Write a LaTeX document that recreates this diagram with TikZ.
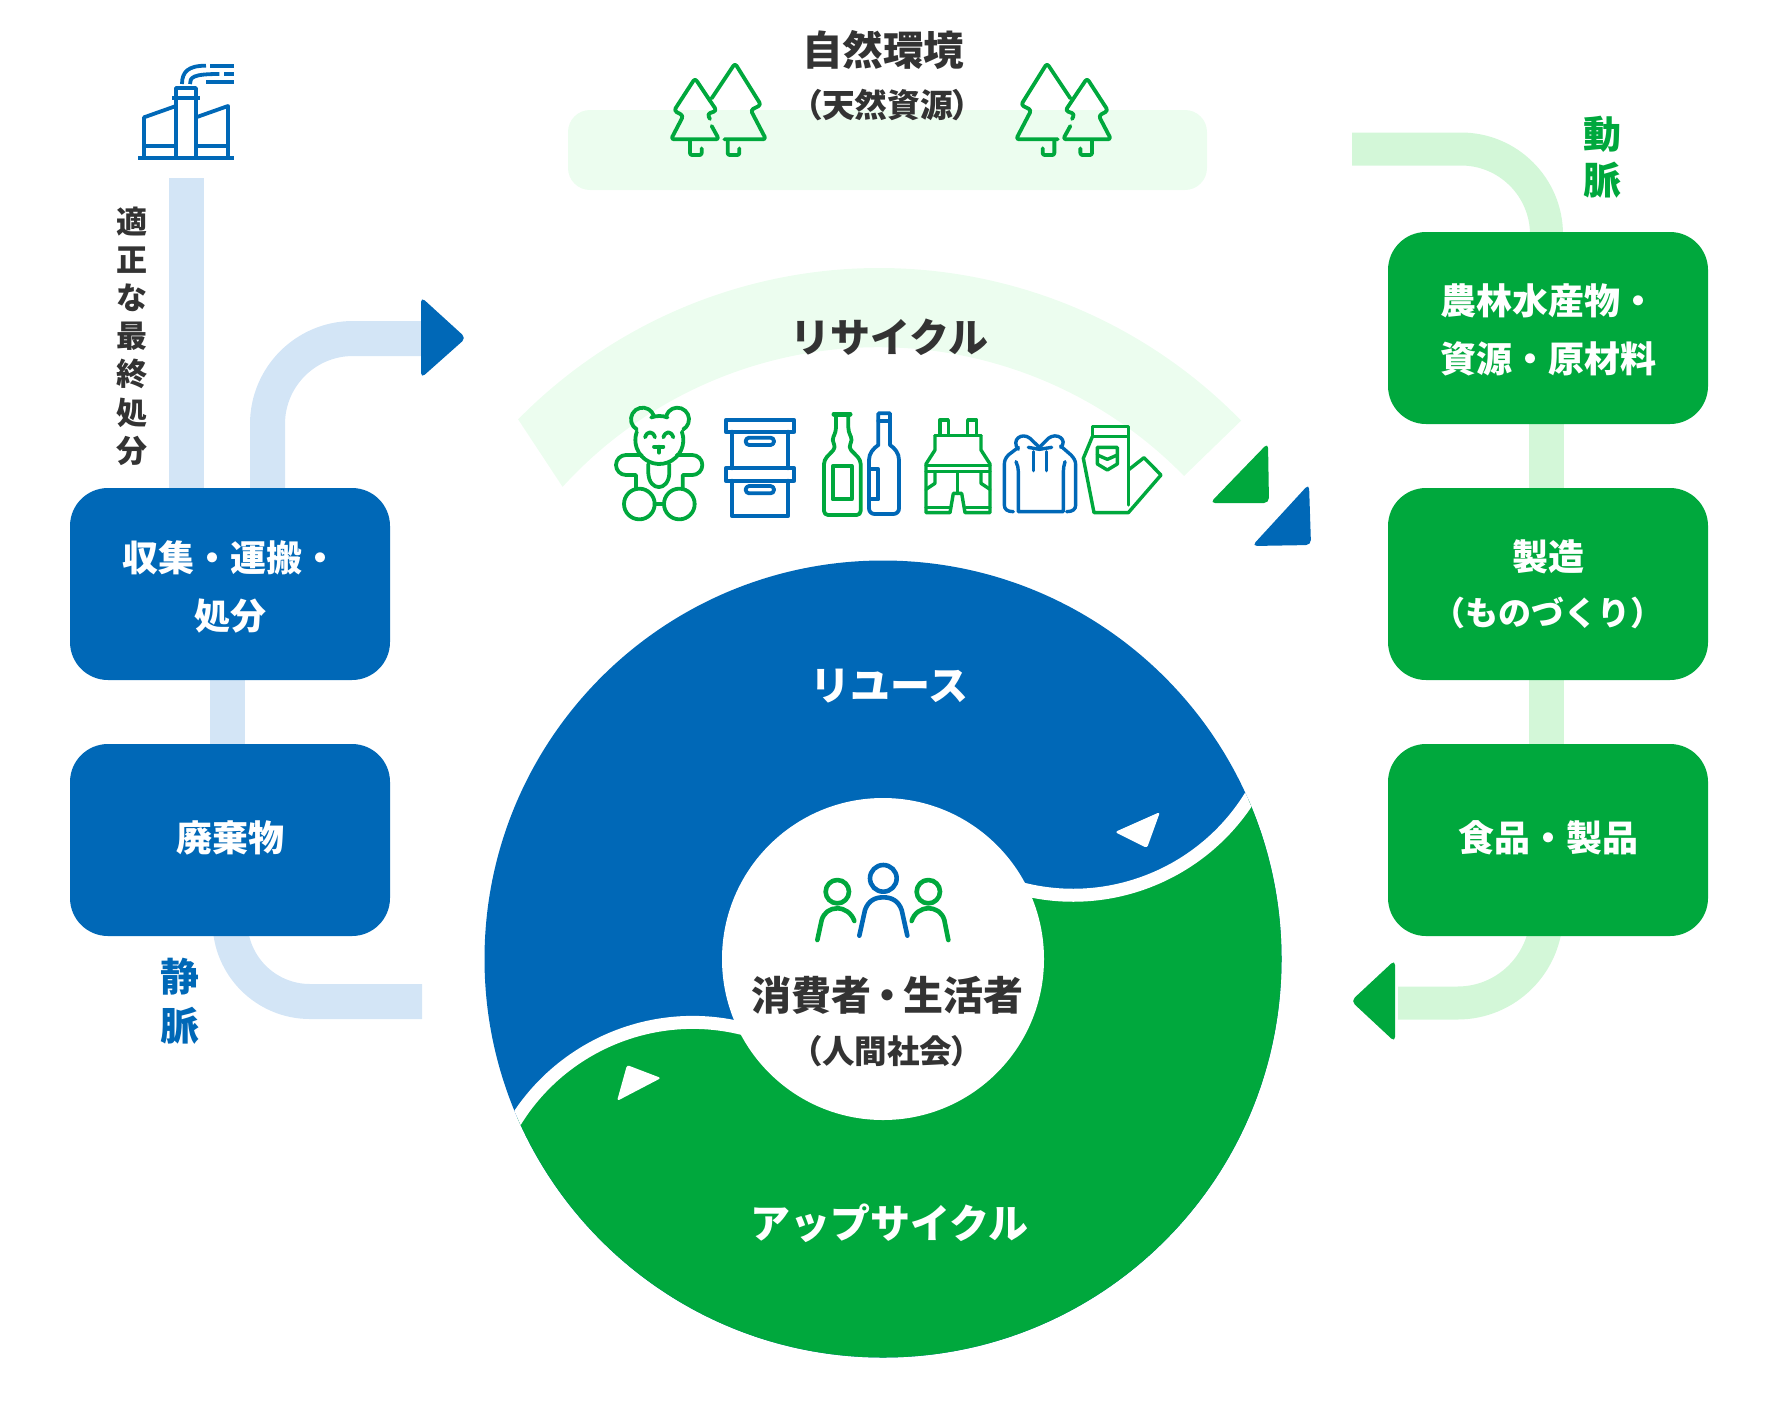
\documentclass[tikz,border=0pt]{standalone}
\usepackage{fontspec}
\usetikzlibrary{backgrounds}
\setmainfont{Noto Sans CJK JP}
\newfontfamily\pal{Noto Sans CJK JP}[RawFeature={+palt}]
\definecolor{mblue}{HTML}{0068B7}
\definecolor{mgreen}{HTML}{00A83D}
\definecolor{lblue}{HTML}{D3E5F6}
\definecolor{lgreen}{HTML}{D3F7D8}
\definecolor{pale}{HTML}{ECFDEF}
\definecolor{ink}{HTML}{333333}
\newcommand{\fs}[2]{\fontsize{#1}{#2}\selectfont\bfseries}
\newcommand{\shifted}[2]{\raisebox{#1}[0pt][0pt]{\begin{tabular}{@{}c@{}}#2\end{tabular}}}
\tikzset{
  box/.style={rounded corners=38pt,minimum width=320pt,minimum height=192pt,inner sep=0pt,align=center,text=white,fill=#1},
  blink/.style={draw=lblue,line width=35pt},
  glink/.style={draw=lgreen,line width=33pt},
  gstraight/.style={draw=lgreen,line width=35pt},
  tipshape/.style={fill=#1,rounded corners=5pt},
  ico/.style={draw=#1,line width=3.8pt,line join=round,line cap=round,fill=none},
  lab/.style={inner sep=0pt,align=center,text=#1},
}
\begin{document}
\begin{tikzpicture}[x=1pt,y=-1pt]
\useasboundingbox (0,0) rectangle (1776,1400);

% soft shapes
\fill[pale,rounded corners=22pt] (568,110) rectangle (1207,190);
\fill[pale] (879,774) ++(224.5:506) arc[start angle=224.5,end angle=315.7,radius=506]
  -- (1184,476) arc[start angle=315.7,end angle=222.3,radius=427] -- cycle;

% boxes
\node[box=mblue,font=\fs{36}{58}] (lb1) at (230,584) {\shifted{-11.5pt}{収集・運搬・\\処分}};
\node[box=mblue,font=\fs{36}{58}] (lb2) at (230,840) {\shifted{-5.9pt}{廃棄物}};
\node[box=mgreen,font=\fs{36}{58}] (rb1) at (1548,328) {\shifted{-10pt}{農林水産物・\\資源・原材料}};
\node[box=mgreen,font=\fs{36}{55}] (rb2) at (1548,584) {製造\\\fs{33}{55}（ものづくり）};
\node[box=mgreen,font=\fs{36}{58}] (rb3) at (1548,840) {\shifted{-6.3pt}{食品・製品}};

% free connector ends
\coordinate (lx1) at (186,0);
\coordinate (lx2) at (267.5,0);
\coordinate (lx3) at (227,0);
\coordinate (lx4) at (230,0);
\coordinate (rx1) at (1546.5,0);
\coordinate (disposal) at (186,178);
\coordinate (recycleend) at (425,338.5);
\coordinate (veinend) at (422,1001.5);
\coordinate (artstart) at (1352,149);
\coordinate (artend) at (1398,1003);

\begin{scope}[on background layer]
  \draw[blink] (lb1.center -| lx1) -- (disposal);
  \draw[blink] (lb1.center -| lx2) -- (267.5,424) arc[start angle=180,end angle=270,radius=85.5] -- (recycleend);
  \draw[blink] (lb1.center -| lx3) -- (lb2.center -| lx3);
  \draw[blink] (lb2.center -| lx4) -- (230,921.5) arc[start angle=180,end angle=90,radius=80] -- (veinend);
  \draw[glink] (artstart) -- (1461,149) arc[start angle=270,end angle=360,radius=85.5] -- (rb1.center -| rx1);
  \draw[gstraight] (rb1.center -| rx1) -- (rb2.center -| rx1);
  \draw[gstraight] (rb2.center -| rx1) -- (rb3.center -| rx1);
  \draw[glink] (rb3.center -| rx1) -- (1546.5,914) arc[start angle=0,end angle=90,radius=89] -- (artend);
\end{scope}

% arrow heads
\fill[tipshape=mblue] (421,297) -- (466,338) -- (421,378) -- cycle;
\fill[tipshape=mgreen] (1395,960) -- (1351,1001) -- (1395,1042) -- cycle;
\fill[tipshape=mgreen] (1268,443) -- (1269,503) -- (1210,503) -- cycle;
\fill[tipshape=mblue] (1309,484) -- (1311,545) -- (1252,546) -- cycle;

% central ring
\fill[mblue] (883,959) circle[radius=398.5];
\begin{scope}
  \clip (883,959) circle[radius=398.5];
  \fill[mgreen] (1269,758) arc[start angle=20,end angle=110,radius=208.5]
     -- (764,1035) arc[start angle=290,end angle=200,radius=208.5]
     -- (500,1400) -- (1400,1400) -- (1400,758) -- cycle;
  \draw[white,line width=13pt] (1269,758) arc[start angle=20,end angle=110,radius=208.5]
     -- (764,1035) arc[start angle=290,end angle=200,radius=208.5];
\end{scope}
\fill[white] (883,959) circle[radius=161];
\fill[white,rounded corners=2.5pt] (1115,832) -- (1160,812) -- (1147,848) -- cycle;
\fill[white,rounded corners=2.5pt] (627,1065) -- (661,1078) -- (617,1101) -- cycle;

% factory
\begin{scope}[shift={(90,30)},scale=1/3]
  \draw[ico=mblue,line cap=butt] (145,384) -- (432,384);
  \draw[ico=mblue] (162,384) -- (162,262) -- (258,228);
  \draw[ico=mblue] (258,384) -- (258,174) -- (318,174) -- (318,384);
  \draw[ico=mblue,line cap=butt] (247,204) -- (330,204);
  \draw[ico=mblue] (318,262) -- (414,228) -- (414,384);
  \draw[ico=mblue,line cap=butt] (162,348) -- (258,348);
  \draw[ico=mblue,line cap=butt] (318,348) -- (414,348);
  \draw[ico=mblue,line cap=butt] (276,162) .. controls (276,125) and (295,107) .. (348,107);
  \draw[ico=mblue,line cap=butt] (300,162) .. controls (300,142) and (308,132) .. (388,132);
  \draw[ico=mblue,line cap=butt] (360,107) -- (432,107);
  \draw[ico=mblue,line cap=butt] (348,156) -- (432,156);
  \draw[ico=mblue,line cap=butt] (402,132) -- (432,132);
\end{scope}

% trees, left pair
\begin{scope}[shift={(660,50)},scale=1/3]
  \draw[ico=mgreen,rounded corners=3pt] (150,207) -- (142,192) -- (170,182) -- (105,85) -- (42,182) -- (70,197) -- (33,268) -- (177,268) -- (155,228);
  \draw[ico=mgreen,rounded corners=3pt] (155,145) -- (225,40) -- (303,165) -- (272,180) -- (318,268) -- (193,268);
  \draw[ico=mgreen,rounded corners=2pt] (90,270) -- (90,315) -- (125,315) -- (125,295);
  \draw[ico=mgreen,rounded corners=2pt] (203,270) -- (203,315) -- (238,315) -- (238,295);
\end{scope}
% trees, right pair
\begin{scope}[shift={(1122,50)},xscale=-1/3,yscale=1/3]
  \draw[ico=mgreen,rounded corners=3pt] (150,207) -- (142,192) -- (170,182) -- (105,85) -- (42,182) -- (70,197) -- (33,268) -- (177,268) -- (155,228);
  \draw[ico=mgreen,rounded corners=3pt] (155,145) -- (225,40) -- (303,165) -- (272,180) -- (318,268) -- (193,268);
  \draw[ico=mgreen,rounded corners=2pt] (90,270) -- (90,315) -- (125,315) -- (125,295);
  \draw[ico=mgreen,rounded corners=2pt] (203,270) -- (203,315) -- (238,315) -- (238,295);
\end{scope}

% teddy, boxes, bottles
\begin{scope}[shift={(600,390)},scale=1/3]
  \draw[ico=mgreen] (128,88) ++(120:35) arc[start angle=120,end angle=340,radius=35];
  \draw[ico=mgreen] (232,88) ++(200:35) arc[start angle=200,end angle=420,radius=35];
  \draw[ico=mgreen] (178,150) ++(-20:72) arc[start angle=-20,end angle=200,radius=72];
  \draw[ico=mgreen] (178,150) ++(250:72) arc[start angle=250,end angle=290,radius=72];
  \draw[ico=mgreen] (135,142) .. controls (142,122) and (158,122) .. (165,142);
  \draw[ico=mgreen] (190,142) .. controls (197,122) and (213,122) .. (220,142);
  \draw[ico=mgreen] (162,170) -- (190,170) (177,170) -- (177,188);
  \draw[ico=mgreen] (125,195) -- (78,195) arc[start angle=270,end angle=90,radius=30] -- (108,255) -- (108,295);
  \draw[ico=mgreen] (230,195) -- (277,195) arc[start angle=-90,end angle=90,radius=30] -- (248,255) -- (248,295);
  \draw[ico=mgreen] (145,222) -- (145,250) .. controls (148,305) and (205,305) .. (208,250) -- (208,222);
  \draw[ico=mgreen] (118,342) circle[radius=46] (238,342) circle[radius=46];
  \draw[ico=mgreen] (164,342) -- (192,342);
  % storage boxes
  \draw[ico=mblue] (377,90) rectangle (583,125);
  \draw[ico=mblue] (395,125) -- (395,235) (565,125) -- (565,235);
  \draw[ico=mblue,rounded corners=3.5pt] (437,143) rectangle (522,165);
  \draw[ico=mblue] (377,235) rectangle (583,272);
  \draw[ico=mblue] (395,272) -- (395,378) -- (565,378) -- (565,272);
  \draw[ico=mblue,rounded corners=3.5pt] (437,288) rectangle (522,310);
  % bottles
  \draw[ico=mgreen,line width=5pt] (702,72) -- (750,72);
  \draw[ico=mgreen,rounded corners=4pt] (708,72) -- (708,125) -- (695,150) -- (708,172) -- (672,210) -- (672,375) -- (782,375) -- (782,210) -- (745,172) -- (758,150) -- (745,125) -- (745,72);
  \draw[ico=mgreen] (698,228) rectangle (755,328);
  \draw[ico=mblue] (835,70) -- (870,70) -- (870,165) .. controls (885,175) and (897,190) .. (897,210) -- (897,355) .. controls (897,365) and (890,372) .. (880,372) -- (824,372) .. controls (814,372) and (807,365) .. (807,355) -- (807,210) .. controls (807,190) and (820,175) .. (835,165) -- cycle;
  \draw[ico=mblue] (835,92) -- (870,92);
  \draw[ico=mblue] (810,238) -- (835,238) -- (835,328) -- (810,328);
\end{scope}

% overalls, hoodie, trousers
\begin{scope}[shift={(900,390)},scale=1/3]
  \tikzset{ico/.append style={line width=3.4pt}}
  \draw[ico=mgreen] (120,135) -- (120,90) -- (145,90) -- (145,135);
  \draw[ico=mgreen] (203,135) -- (203,90) -- (230,90) -- (230,135);
  \draw[ico=mgreen] (105,137) -- (243,137);
  \draw[ico=mgreen] (105,137) -- (105,180) -- (78,222) -- (78,368) -- (150,368) -- (160,310) -- (185,310) -- (195,368) -- (270,368) -- (270,222) -- (243,180) -- (243,137);
  \draw[ico=mgreen] (78,226) -- (270,226) (78,245) -- (270,245);
  \draw[ico=mgreen] (172,248) -- (172,310);
  \draw[ico=mgreen] (105,248) -- (105,280) -- (78,298);
  \draw[ico=mgreen] (243,248) -- (243,280) -- (270,298);
  \draw[ico=mgreen] (78,352) -- (150,352) (198,352) -- (270,352);
  \draw[ico=mblue] (355,178) .. controls (332,150) and (365,125) .. (390,145) -- (418,172) -- (445,145) .. controls (470,125) and (505,150) .. (482,172);
  \draw[ico=mblue] (385,172) -- (418,178) -- (455,172);
  \draw[ico=mblue] (400,185) -- (400,242) (440,185) -- (440,242);
  \draw[ico=mblue] (355,172) -- (325,195) .. controls (316,205) and (313,212) .. (313,225) -- (313,345) .. controls (313,358) and (322,365) .. (340,365);
  \draw[ico=mblue] (482,168) -- (513,195) .. controls (522,205) and (527,212) .. (527,225) -- (527,345) .. controls (527,358) and (518,365) .. (500,365);
  \draw[ico=mblue] (348,215) .. controls (353,225) and (355,235) .. (355,245) -- (355,365) -- (490,365) -- (490,245) .. controls (490,235) and (492,225) .. (495,215);
  \draw[ico=mgreen] (577,110) -- (685,110) -- (685,140) -- (577,140) -- cycle;
  \draw[ico=mgreen] (577,140) -- (550,205) -- (582,368) -- (685,368) -- (783,255) -- (732,203) -- (685,240);
  \draw[ico=mgreen] (685,140) -- (685,345);
  \draw[ico=mgreen] (592,172) -- (652,172) -- (652,222) -- (622,240) -- (592,222) -- cycle;
  \draw[ico=mgreen] (592,195) -- (622,208) -- (652,195);
\end{scope}

% people
\begin{scope}[shift={(700,780)},scale=1/3]
  \tikzset{ico/.append style={line width=4.6pt}}
  \draw[ico=mblue] (550,295) circle[radius=40];
  \draw[ico=mblue] (478,467) -- (495,390) .. controls (505,362) and (525,352) .. (550,352) .. controls (575,352) and (595,362) .. (605,390) -- (622,467);
  \draw[ico=mgreen] (412,335) circle[radius=35];
  \draw[ico=mgreen] (352,480) -- (365,420) .. controls (372,397) and (390,385) .. (412,385) .. controls (435,385) and (455,400) .. (463,423);
  \draw[ico=mgreen] (685,335) circle[radius=35];
  \draw[ico=mgreen] (745,480) -- (733,420) .. controls (726,397) and (708,385) .. (685,385) .. controls (662,385) and (642,400) .. (635,423);
\end{scope}

% labels
\node[lab=ink,font=\fs{40.5}{48}] (nature) at (883,50) {自然環境};
\node[lab=ink,font=\pal\fs{32.7}{38}] (natres) at (887.5,105) {（天然資源）};
\node[lab=ink,font=\fs{40}{46}] (recycle) at (889,337) {リサイクル};
\node[lab=white,font=\fs{40}{46}] (reuse) at (889,686) {リユース};
\node[lab=white,font=\fs{40}{46}] (upcycle) at (889,1223) {アップサイクル};
\node[lab=ink,font=\fs{40}{48}] (consumer) at (887,995) {消費者\hspace{-4pt}・\hspace{-4pt}生活者};
\node[lab=ink,font=\pal\fs{32.5}{38}] (society) at (887,1051) {（人間社会）};
\node[lab=ink,font=\fs{31}{38.2}] (landfill) at (132,336) {適\\正\\な\\最\\終\\処\\分};
\node[lab=mgreen,font=\fs{38}{45.5}] (artery) at (1602,157) {動\\脈};
\node[lab=mblue,font=\fs{39}{49}] (vein) at (180,1001) {静\\脈};
\end{tikzpicture}
\end{document}
